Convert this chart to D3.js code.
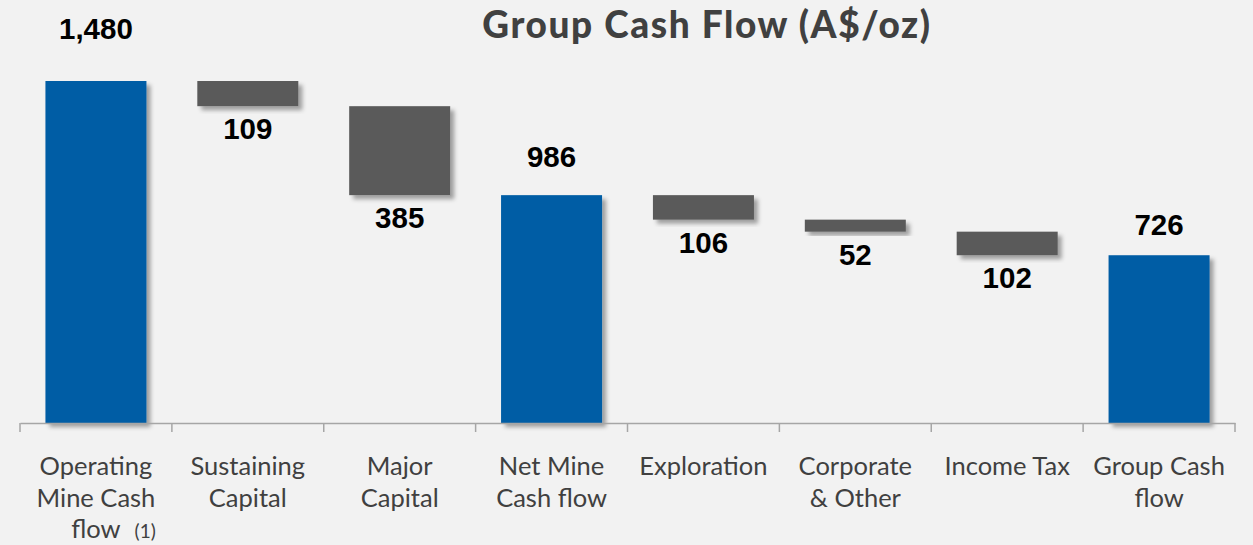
<!DOCTYPE html>
<html>
<head>
<meta charset="utf-8">
<script src="https://cdn.jsdelivr.net/npm/d3@7"></script>
<style>
  html, body { margin: 0; padding: 0; background: #F2F2F2; }
  svg { display: block; }
</style>
</head>
<body>
<svg id="chart" width="1253" height="545"></svg>
<script>
// ---- data ----
const categories = [
  "Operating\nMine Cash\nflow",
  "Sustaining\nCapital",
  "Major\nCapital",
  "Net Mine\nCash flow",
  "Exploration",
  "Corporate\n& Other",
  "Income Tax",
  "Group Cash\nflow"
];
const footnotes = ["(1)", "", "", "", "", "", "", ""];
const values = [1480, -109, -385, 986, -106, -52, -102, 726];
const isTotal = [true, false, false, true, false, false, false, true];
const title = "Group Cash Flow (A$/oz)";

// ---- layout ----
const svg = d3.select("#chart");
const defs = svg.append("defs");
const f = defs.append("filter").attr("id", "shadow")
  .attr("x", "-20%").attr("y", "-20%").attr("width", "150%").attr("height", "150%");
f.append("feDropShadow").attr("dx", 4).attr("dy", 4).attr("stdDeviation", 2.2)
  .attr("flood-color", "#000").attr("flood-opacity", 0.35);

// waterfall segments
let running = 0;
const segs = values.map((v, i) => {
  let lo, hi;
  if (isTotal[i]) { lo = 0; hi = v; running = v; }
  else { hi = running; lo = running + v; running = lo; }
  return { cat: categories[i], v, lo, hi, total: isTotal[i], i };
});

const x = d3.scaleBand().domain(categories).range([20, 1235]).paddingInner(0.335).paddingOuter(0.1675);
const y = d3.scaleLinear().domain([0, 1480]).range([423, 81]);

// bars
svg.append("g").selectAll("rect").data(segs).join("rect")
  .attr("x", d => x(d.cat))
  .attr("width", x.bandwidth())
  .attr("y", d => y(d.hi))
  .attr("height", d => y(d.lo) - y(d.hi))
  .attr("fill", d => d.total ? "#065DA5" : "#5A5A5A")
  .attr("filter", "url(#shadow)");

// value labels
const fmt = d3.format(",");
svg.append("g").selectAll("text").data(segs).join("text")
  .attr("x", d => x(d.cat) + x.bandwidth() / 2)
  .attr("y", d => d.total ? y(d.hi * 1.123) : y(d.lo) + 33)
  .attr("text-anchor", "middle")
  .attr("font-family", "'Liberation Sans', Arial, sans-serif")
  .attr("font-weight", "bold")
  .attr("font-size", 29.5)
  .attr("fill", "#000")
  .text(d => fmt(Math.abs(d.v)));

// x axis
const axis = d3.axisBottom(x).tickSize(0).tickFormat("");
const gAxis = svg.append("g").attr("transform", `translate(0,${y(0)})`).call(axis);
gAxis.select(".domain").attr("stroke", "#A6A6A6").attr("stroke-width", 1.5);
gAxis.selectAll(".tick").remove();
const step = x.step();
const bounds = d3.range(categories.length + 1).map(i => x.range()[0] + i * step);
gAxis.selectAll("line.sep").data(bounds).join("line").attr("class", "sep")
  .attr("x1", d => d).attr("x2", d => d).attr("y1", 0).attr("y2", 9)
  .attr("stroke", "#A6A6A6").attr("stroke-width", 1.5);

// category labels
const labG = svg.append("g");
segs.forEach((d, i) => {
  const lines = d.cat.split("\n");
  const cx = x(d.cat) + x.bandwidth() / 2;
  const t = labG.append("text")
    .attr("x", cx)
    .attr("y", 475)
    .attr("text-anchor", "middle")
    .attr("font-family", "Lato, 'Open Sans', sans-serif")
    .attr("font-size", 25.5)
    .attr("fill", "#404040");
  let lastSpan;
  lines.forEach((ln, j) => {
    lastSpan = t.append("tspan").attr("x", cx).attr("dy", j === 0 ? 0 : 31.5).text(ln);
  });
  if (footnotes[i]) {
    const w = lastSpan.node().getComputedTextLength();
    labG.append("text")
      .attr("x", cx + w / 2 + 14)
      .attr("y", 475 + 31.5 * (lines.length - 1))
      .attr("font-family", "Lato, 'Open Sans', sans-serif")
      .attr("font-size", 19)
      .attr("fill", "#404040")
      .text(footnotes[i]);
  }
});

// title
svg.append("text")
  .attr("x", 707).attr("y", 38)
  .attr("text-anchor", "middle")
  .attr("font-family", "Lato, 'Open Sans', sans-serif")
  .attr("font-weight", 900)
  .attr("font-size", 37)
  .attr("letter-spacing", 1.6)
  .attr("fill", "#404040")
  .text(title);
</script>
</body>
</html>
